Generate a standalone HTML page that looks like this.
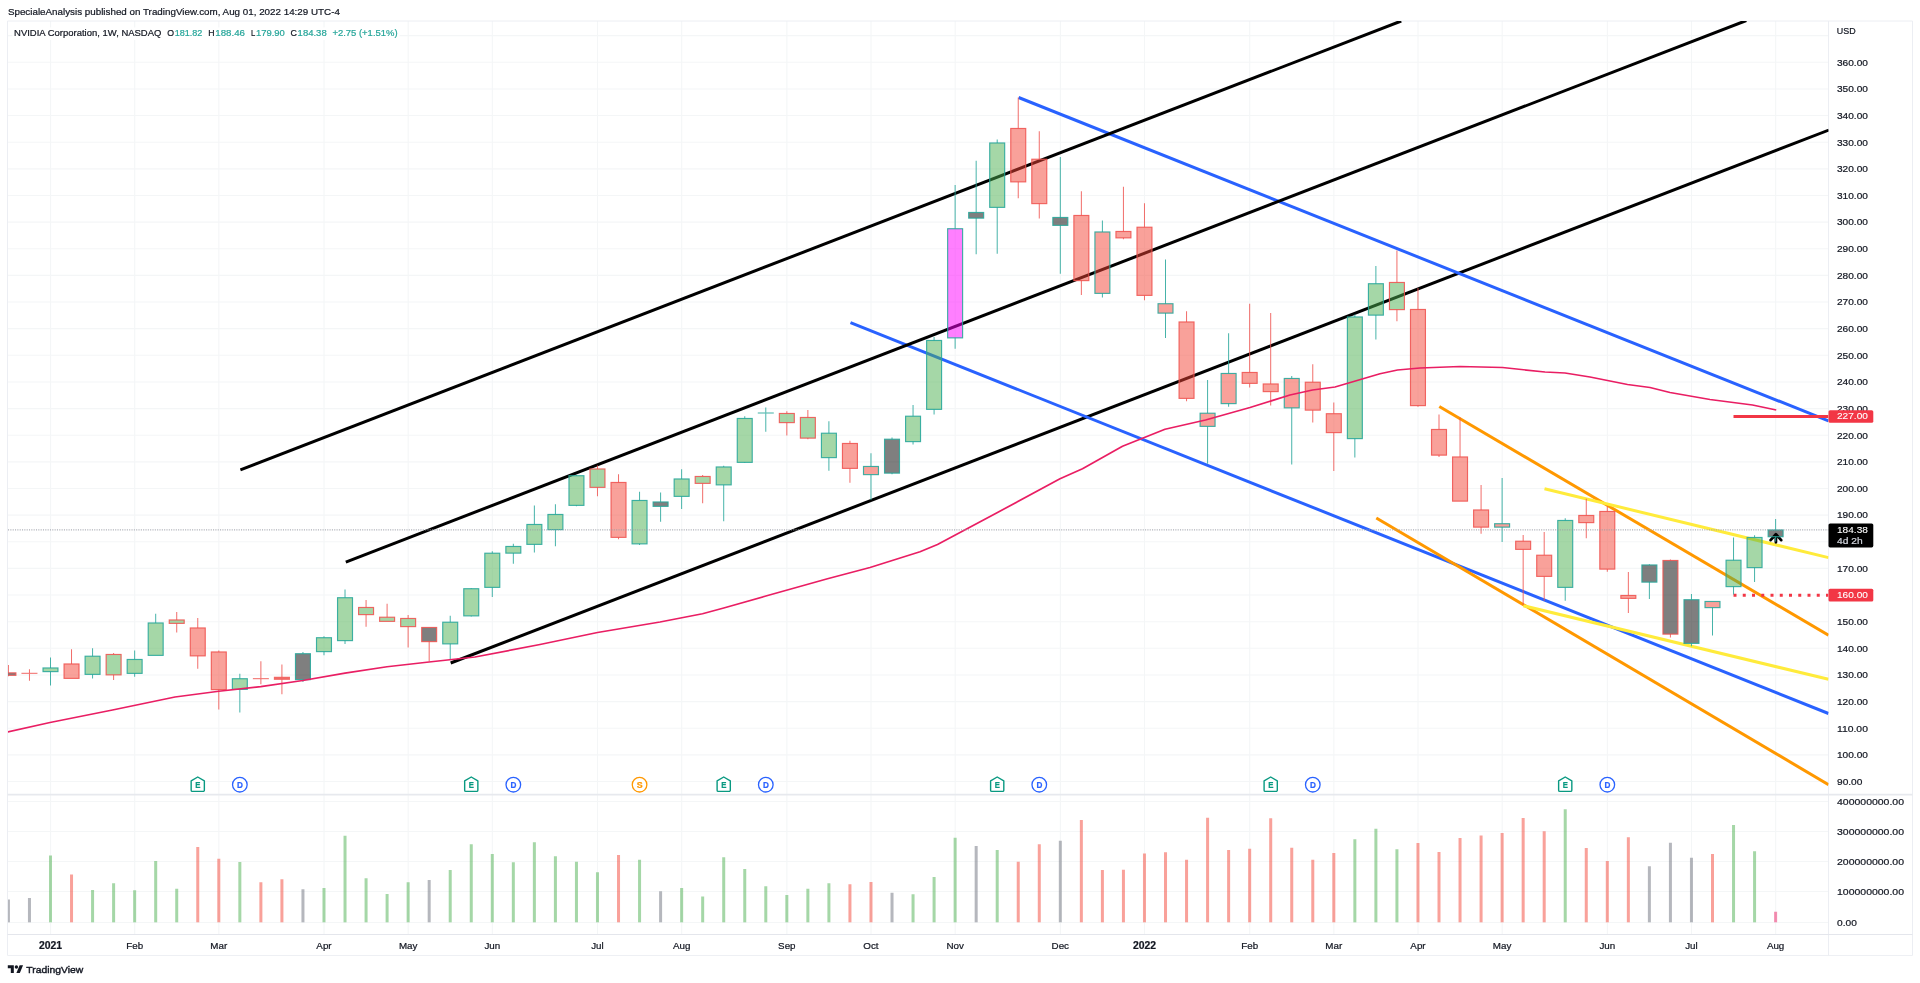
<!DOCTYPE html>
<html lang="en"><head><meta charset="utf-8"><title>NVIDIA Corporation, 1W, NASDAQ</title>
<style>html,body{margin:0;padding:0;background:#fff;}body{width:1920px;height:983px;overflow:hidden;}svg{display:block;position:absolute;left:0;top:0;will-change:transform;}text{font-family:"Liberation Sans", sans-serif;fill:#131722;stroke:#131722;stroke-width:.22px;}</style></head><body>
<svg width="1920" height="983" viewBox="0 0 1920 983">
<rect width="1920" height="983" fill="#fff"/>
<defs><clipPath id="cp"><rect x="8" y="21" width="1820.5" height="773.5"/></clipPath><clipPath id="cv"><rect x="8" y="795.5" width="1820.5" height="139"/></clipPath></defs>
<g stroke="#f4f6f7" stroke-width="1.1" fill="none">
<line x1="50.55" y1="21" x2="50.55" y2="934.5"/>
<line x1="134.7" y1="21" x2="134.7" y2="934.5"/>
<line x1="218.85" y1="21" x2="218.85" y2="934.5"/>
<line x1="324.04" y1="21" x2="324.04" y2="934.5"/>
<line x1="408.19" y1="21" x2="408.19" y2="934.5"/>
<line x1="492.34" y1="21" x2="492.34" y2="934.5"/>
<line x1="597.53" y1="21" x2="597.53" y2="934.5"/>
<line x1="681.69" y1="21" x2="681.69" y2="934.5"/>
<line x1="786.88" y1="21" x2="786.88" y2="934.5"/>
<line x1="871.03" y1="21" x2="871.03" y2="934.5"/>
<line x1="955.18" y1="21" x2="955.18" y2="934.5"/>
<line x1="1060.37" y1="21" x2="1060.37" y2="934.5"/>
<line x1="1144.52" y1="21" x2="1144.52" y2="934.5"/>
<line x1="1249.71" y1="21" x2="1249.71" y2="934.5"/>
<line x1="1333.86" y1="21" x2="1333.86" y2="934.5"/>
<line x1="1418.02" y1="21" x2="1418.02" y2="934.5"/>
<line x1="1502.17" y1="21" x2="1502.17" y2="934.5"/>
<line x1="1607.36" y1="21" x2="1607.36" y2="934.5"/>
<line x1="1691.51" y1="21" x2="1691.51" y2="934.5"/>
<line x1="1775.66" y1="21" x2="1775.66" y2="934.5"/>
<line x1="8" y1="781.5" x2="1828.5" y2="781.5"/>
<line x1="8" y1="754.86" x2="1828.5" y2="754.86"/>
<line x1="8" y1="728.22" x2="1828.5" y2="728.22"/>
<line x1="8" y1="701.59" x2="1828.5" y2="701.59"/>
<line x1="8" y1="674.95" x2="1828.5" y2="674.95"/>
<line x1="8" y1="648.31" x2="1828.5" y2="648.31"/>
<line x1="8" y1="621.68" x2="1828.5" y2="621.68"/>
<line x1="8" y1="595.04" x2="1828.5" y2="595.04"/>
<line x1="8" y1="568.4" x2="1828.5" y2="568.4"/>
<line x1="8" y1="541.77" x2="1828.5" y2="541.77"/>
<line x1="8" y1="515.13" x2="1828.5" y2="515.13"/>
<line x1="8" y1="488.49" x2="1828.5" y2="488.49"/>
<line x1="8" y1="461.86" x2="1828.5" y2="461.86"/>
<line x1="8" y1="435.22" x2="1828.5" y2="435.22"/>
<line x1="8" y1="408.58" x2="1828.5" y2="408.58"/>
<line x1="8" y1="381.94" x2="1828.5" y2="381.94"/>
<line x1="8" y1="355.31" x2="1828.5" y2="355.31"/>
<line x1="8" y1="328.67" x2="1828.5" y2="328.67"/>
<line x1="8" y1="302.03" x2="1828.5" y2="302.03"/>
<line x1="8" y1="275.4" x2="1828.5" y2="275.4"/>
<line x1="8" y1="248.76" x2="1828.5" y2="248.76"/>
<line x1="8" y1="222.12" x2="1828.5" y2="222.12"/>
<line x1="8" y1="195.49" x2="1828.5" y2="195.49"/>
<line x1="8" y1="168.85" x2="1828.5" y2="168.85"/>
<line x1="8" y1="142.21" x2="1828.5" y2="142.21"/>
<line x1="8" y1="115.57" x2="1828.5" y2="115.57"/>
<line x1="8" y1="88.94" x2="1828.5" y2="88.94"/>
<line x1="8" y1="62.3" x2="1828.5" y2="62.3"/>
<line x1="8" y1="35.66" x2="1828.5" y2="35.66"/>
<line x1="8" y1="922.5" x2="1828.5" y2="922.5"/>
<line x1="8" y1="891.5" x2="1828.5" y2="891.5"/>
<line x1="8" y1="861.5" x2="1828.5" y2="861.5"/>
<line x1="8" y1="831.5" x2="1828.5" y2="831.5"/>
<line x1="8" y1="801.5" x2="1828.5" y2="801.5"/>
</g>
<g stroke="#eceef3" stroke-width="1" fill="none">
<line x1="7.5" y1="21" x2="1912.5" y2="21"/>
<line x1="7.5" y1="21" x2="7.5" y2="955.5"/>
<line x1="7.5" y1="955.5" x2="1912.5" y2="955.5" stroke="#eef0f4"/>
<line x1="1828.5" y1="21" x2="1828.5" y2="955.5"/>
<line x1="1912.5" y1="21" x2="1912.5" y2="955.5" />
<line x1="7.5" y1="934.5" x2="1912.5" y2="934.5" stroke="#e4e6ec"/>
<line x1="7.5" y1="794.6" x2="1912.5" y2="794.6" stroke-width="1.6" stroke="#e7e9ee"/>
</g>
<g clip-path="url(#cp)" fill="none" stroke-width="3">
<line x1="450.7" y1="663" x2="1828.9" y2="130.05" stroke="#000"/>
<line x1="850.5" y1="322.6" x2="1828.5" y2="713.5" stroke="#2962ff"/>
<line x1="1018.6" y1="97.5" x2="1828.5" y2="420.9" stroke="#2962ff"/>
<line x1="240.4" y1="469.9" x2="1401.2" y2="21.0186" stroke="#000"/>
<line x1="345.8" y1="562.1" x2="1746.3" y2="20.5267" stroke="#000"/>
<line x1="1439.3" y1="406.5" x2="1828.5" y2="635.3" stroke="#ff9800"/>
<line x1="1376.3" y1="518" x2="1828.5" y2="784.6" stroke="#ff9800"/>
<line x1="1544.5" y1="488.8" x2="1828.5" y2="557.6" stroke="#ffeb3b"/>
<line x1="1523.3" y1="605.7" x2="1828.5" y2="679.3" stroke="#ffeb3b"/>
<line x1="1733.5" y1="416.5" x2="1828.5" y2="416.5" stroke="#f23645"/>
<line x1="1733.5" y1="595.2" x2="1828.5" y2="595.2" stroke="#f23645" stroke-dasharray="3 6.25"/>
<path d="M1770.6 540.1 L1775.9 534.3 L1781.2 540.1 M1775.9 534.8 L1775.9 542.3" stroke="#000" stroke-width="2.8" stroke-linecap="round" stroke-linejoin="round"/>
</g>
<g clip-path="url(#cp)">
<line x1="8.42" y1="665" x2="8.42" y2="672.9" stroke="rgba(239,83,80,.85)" stroke-width="1"/>
<line x1="8.42" y1="675.2" x2="8.42" y2="676.25" stroke="rgba(239,83,80,.85)" stroke-width="1"/>
<rect x="0.95" y="672.87" width="14.95" height="2.45" fill="rgba(0,0,0,.5)" stroke="rgba(239,83,80,.88)" stroke-width="1.15"/>
<line x1="29.46" y1="669.25" x2="29.46" y2="673" stroke="rgba(239,83,80,.85)" stroke-width="1"/>
<line x1="29.46" y1="673.6" x2="29.46" y2="680.75" stroke="rgba(239,83,80,.85)" stroke-width="1"/>
<line x1="21.46" y1="673.3" x2="37.46" y2="673.3" stroke="rgba(239,83,80,.88)" stroke-width="1"/>
<line x1="50.50" y1="657.5" x2="50.50" y2="668" stroke="rgba(38,166,154,.85)" stroke-width="1"/>
<line x1="50.50" y1="671.5" x2="50.50" y2="685.5" stroke="rgba(38,166,154,.85)" stroke-width="1"/>
<rect x="43.02" y="667.97" width="14.95" height="3.65" fill="rgba(76,175,80,.5)" stroke="rgba(38,166,154,.88)" stroke-width="1.15"/>
<line x1="71.53" y1="649.25" x2="71.53" y2="664" stroke="rgba(239,83,80,.85)" stroke-width="1"/>
<rect x="64.06" y="663.97" width="14.95" height="14.40" fill="rgba(244,67,54,.5)" stroke="rgba(239,83,80,.88)" stroke-width="1.15"/>
<line x1="92.57" y1="648.25" x2="92.57" y2="656.25" stroke="rgba(38,166,154,.85)" stroke-width="1"/>
<line x1="92.57" y1="674.25" x2="92.57" y2="678.5" stroke="rgba(38,166,154,.85)" stroke-width="1"/>
<rect x="85.10" y="656.22" width="14.95" height="18.15" fill="rgba(76,175,80,.5)" stroke="rgba(38,166,154,.88)" stroke-width="1.15"/>
<line x1="113.61" y1="653" x2="113.61" y2="654.5" stroke="rgba(239,83,80,.85)" stroke-width="1"/>
<line x1="113.61" y1="674.75" x2="113.61" y2="680" stroke="rgba(239,83,80,.85)" stroke-width="1"/>
<rect x="106.14" y="654.47" width="14.95" height="20.40" fill="rgba(76,175,80,.5)" stroke="rgba(239,83,80,.88)" stroke-width="1.15"/>
<line x1="134.65" y1="650.5" x2="134.65" y2="659.5" stroke="rgba(38,166,154,.85)" stroke-width="1"/>
<line x1="134.65" y1="673.25" x2="134.65" y2="676.75" stroke="rgba(38,166,154,.85)" stroke-width="1"/>
<rect x="127.17" y="659.47" width="14.95" height="13.90" fill="rgba(76,175,80,.5)" stroke="rgba(38,166,154,.88)" stroke-width="1.15"/>
<line x1="155.69" y1="613.75" x2="155.69" y2="623" stroke="rgba(38,166,154,.85)" stroke-width="1"/>
<rect x="148.21" y="622.97" width="14.95" height="32.40" fill="rgba(76,175,80,.5)" stroke="rgba(38,166,154,.88)" stroke-width="1.15"/>
<line x1="176.72" y1="612" x2="176.72" y2="620" stroke="rgba(239,83,80,.85)" stroke-width="1"/>
<line x1="176.72" y1="623.25" x2="176.72" y2="632.5" stroke="rgba(239,83,80,.85)" stroke-width="1"/>
<rect x="169.25" y="619.97" width="14.95" height="3.40" fill="rgba(76,175,80,.5)" stroke="rgba(239,83,80,.88)" stroke-width="1.15"/>
<line x1="197.76" y1="618" x2="197.76" y2="628" stroke="rgba(239,83,80,.85)" stroke-width="1"/>
<line x1="197.76" y1="655.75" x2="197.76" y2="668.75" stroke="rgba(239,83,80,.85)" stroke-width="1"/>
<rect x="190.29" y="627.97" width="14.95" height="27.90" fill="rgba(244,67,54,.5)" stroke="rgba(239,83,80,.88)" stroke-width="1.15"/>
<line x1="218.80" y1="650.5" x2="218.80" y2="652" stroke="rgba(239,83,80,.85)" stroke-width="1"/>
<line x1="218.80" y1="689.5" x2="218.80" y2="709.5" stroke="rgba(239,83,80,.85)" stroke-width="1"/>
<rect x="211.32" y="651.97" width="14.95" height="37.65" fill="rgba(244,67,54,.5)" stroke="rgba(239,83,80,.88)" stroke-width="1.15"/>
<line x1="239.84" y1="673.75" x2="239.84" y2="678.75" stroke="rgba(38,166,154,.85)" stroke-width="1"/>
<line x1="239.84" y1="689.25" x2="239.84" y2="712.5" stroke="rgba(38,166,154,.85)" stroke-width="1"/>
<rect x="232.36" y="678.72" width="14.95" height="10.65" fill="rgba(76,175,80,.5)" stroke="rgba(38,166,154,.88)" stroke-width="1.15"/>
<line x1="260.88" y1="661.25" x2="260.88" y2="678.4" stroke="rgba(239,83,80,.85)" stroke-width="1"/>
<line x1="260.88" y1="679" x2="260.88" y2="684.25" stroke="rgba(239,83,80,.85)" stroke-width="1"/>
<line x1="252.88" y1="678.7" x2="268.88" y2="678.7" stroke="rgba(239,83,80,.88)" stroke-width="1"/>
<line x1="281.91" y1="664.5" x2="281.91" y2="677.25" stroke="rgba(239,83,80,.85)" stroke-width="1"/>
<line x1="281.91" y1="679.25" x2="281.91" y2="694.25" stroke="rgba(239,83,80,.85)" stroke-width="1"/>
<rect x="273.86" y="676.75" width="16.1" height="3.10" fill="rgba(239,83,80,.88)"/>
<line x1="302.95" y1="652" x2="302.95" y2="653.75" stroke="rgba(38,166,154,.85)" stroke-width="1"/>
<line x1="302.95" y1="679.5" x2="302.95" y2="682" stroke="rgba(38,166,154,.85)" stroke-width="1"/>
<rect x="295.48" y="653.72" width="14.95" height="25.90" fill="rgba(0,0,0,.5)" stroke="rgba(38,166,154,.88)" stroke-width="1.15"/>
<line x1="323.99" y1="636.25" x2="323.99" y2="637.75" stroke="rgba(38,166,154,.85)" stroke-width="1"/>
<line x1="323.99" y1="651.5" x2="323.99" y2="655.25" stroke="rgba(38,166,154,.85)" stroke-width="1"/>
<rect x="316.51" y="637.72" width="14.95" height="13.90" fill="rgba(76,175,80,.5)" stroke="rgba(38,166,154,.88)" stroke-width="1.15"/>
<line x1="345.03" y1="589.5" x2="345.03" y2="597.75" stroke="rgba(38,166,154,.85)" stroke-width="1"/>
<line x1="345.03" y1="640.5" x2="345.03" y2="644" stroke="rgba(38,166,154,.85)" stroke-width="1"/>
<rect x="337.55" y="597.72" width="14.95" height="42.90" fill="rgba(76,175,80,.5)" stroke="rgba(38,166,154,.88)" stroke-width="1.15"/>
<line x1="366.07" y1="600" x2="366.07" y2="607.5" stroke="rgba(239,83,80,.85)" stroke-width="1"/>
<line x1="366.07" y1="614.5" x2="366.07" y2="626.75" stroke="rgba(239,83,80,.85)" stroke-width="1"/>
<rect x="358.59" y="607.47" width="14.95" height="7.15" fill="rgba(76,175,80,.5)" stroke="rgba(239,83,80,.88)" stroke-width="1.15"/>
<line x1="387.10" y1="603.75" x2="387.10" y2="617.25" stroke="rgba(239,83,80,.85)" stroke-width="1"/>
<rect x="379.63" y="617.22" width="14.95" height="4.15" fill="rgba(76,175,80,.5)" stroke="rgba(239,83,80,.88)" stroke-width="1.15"/>
<line x1="408.14" y1="615" x2="408.14" y2="618.5" stroke="rgba(239,83,80,.85)" stroke-width="1"/>
<line x1="408.14" y1="626.5" x2="408.14" y2="647.5" stroke="rgba(239,83,80,.85)" stroke-width="1"/>
<rect x="400.67" y="618.47" width="14.95" height="8.15" fill="rgba(76,175,80,.5)" stroke="rgba(239,83,80,.88)" stroke-width="1.15"/>
<line x1="429.18" y1="641.5" x2="429.18" y2="661.25" stroke="rgba(239,83,80,.85)" stroke-width="1"/>
<rect x="421.70" y="627.47" width="14.95" height="14.15" fill="rgba(0,0,0,.5)" stroke="rgba(239,83,80,.88)" stroke-width="1.15"/>
<line x1="450.22" y1="615.75" x2="450.22" y2="622.25" stroke="rgba(38,166,154,.85)" stroke-width="1"/>
<line x1="450.22" y1="643.75" x2="450.22" y2="660" stroke="rgba(38,166,154,.85)" stroke-width="1"/>
<rect x="442.74" y="622.22" width="14.95" height="21.65" fill="rgba(76,175,80,.5)" stroke="rgba(38,166,154,.88)" stroke-width="1.15"/>
<line x1="471.26" y1="588" x2="471.26" y2="588.75" stroke="rgba(38,166,154,.85)" stroke-width="1"/>
<line x1="471.26" y1="615.75" x2="471.26" y2="616.5" stroke="rgba(38,166,154,.85)" stroke-width="1"/>
<rect x="463.78" y="588.72" width="14.95" height="27.15" fill="rgba(76,175,80,.5)" stroke="rgba(38,166,154,.88)" stroke-width="1.15"/>
<line x1="492.29" y1="551.25" x2="492.29" y2="553.25" stroke="rgba(38,166,154,.85)" stroke-width="1"/>
<line x1="492.29" y1="587.25" x2="492.29" y2="597" stroke="rgba(38,166,154,.85)" stroke-width="1"/>
<rect x="484.82" y="553.22" width="14.95" height="34.15" fill="rgba(76,175,80,.5)" stroke="rgba(38,166,154,.88)" stroke-width="1.15"/>
<line x1="513.33" y1="543.75" x2="513.33" y2="546.5" stroke="rgba(38,166,154,.85)" stroke-width="1"/>
<line x1="513.33" y1="553" x2="513.33" y2="563.75" stroke="rgba(38,166,154,.85)" stroke-width="1"/>
<rect x="505.86" y="546.47" width="14.95" height="6.65" fill="rgba(76,175,80,.5)" stroke="rgba(38,166,154,.88)" stroke-width="1.15"/>
<line x1="534.37" y1="505.5" x2="534.37" y2="524.5" stroke="rgba(38,166,154,.85)" stroke-width="1"/>
<line x1="534.37" y1="544.25" x2="534.37" y2="552.5" stroke="rgba(38,166,154,.85)" stroke-width="1"/>
<rect x="526.89" y="524.47" width="14.95" height="19.90" fill="rgba(76,175,80,.5)" stroke="rgba(38,166,154,.88)" stroke-width="1.15"/>
<line x1="555.41" y1="504.25" x2="555.41" y2="514.5" stroke="rgba(38,166,154,.85)" stroke-width="1"/>
<line x1="555.41" y1="529.5" x2="555.41" y2="546.25" stroke="rgba(38,166,154,.85)" stroke-width="1"/>
<rect x="547.93" y="514.47" width="14.95" height="15.15" fill="rgba(76,175,80,.5)" stroke="rgba(38,166,154,.88)" stroke-width="1.15"/>
<line x1="576.45" y1="475" x2="576.45" y2="475.75" stroke="rgba(38,166,154,.85)" stroke-width="1"/>
<line x1="576.45" y1="505.25" x2="576.45" y2="506.25" stroke="rgba(38,166,154,.85)" stroke-width="1"/>
<rect x="568.97" y="475.72" width="14.95" height="29.65" fill="rgba(76,175,80,.5)" stroke="rgba(38,166,154,.88)" stroke-width="1.15"/>
<line x1="597.48" y1="465.5" x2="597.48" y2="469" stroke="rgba(239,83,80,.85)" stroke-width="1"/>
<line x1="597.48" y1="487.25" x2="597.48" y2="496.25" stroke="rgba(239,83,80,.85)" stroke-width="1"/>
<rect x="590.01" y="468.97" width="14.95" height="18.40" fill="rgba(76,175,80,.5)" stroke="rgba(239,83,80,.88)" stroke-width="1.15"/>
<line x1="618.52" y1="474.25" x2="618.52" y2="482.5" stroke="rgba(239,83,80,.85)" stroke-width="1"/>
<line x1="618.52" y1="537.25" x2="618.52" y2="539.25" stroke="rgba(239,83,80,.85)" stroke-width="1"/>
<rect x="611.05" y="482.47" width="14.95" height="54.90" fill="rgba(244,67,54,.5)" stroke="rgba(239,83,80,.88)" stroke-width="1.15"/>
<line x1="639.56" y1="491.75" x2="639.56" y2="500.5" stroke="rgba(38,166,154,.85)" stroke-width="1"/>
<line x1="639.56" y1="543.75" x2="639.56" y2="545" stroke="rgba(38,166,154,.85)" stroke-width="1"/>
<rect x="632.08" y="500.47" width="14.95" height="43.40" fill="rgba(76,175,80,.5)" stroke="rgba(38,166,154,.88)" stroke-width="1.15"/>
<line x1="660.60" y1="492.5" x2="660.60" y2="502" stroke="rgba(38,166,154,.85)" stroke-width="1"/>
<line x1="660.60" y1="506.25" x2="660.60" y2="521.75" stroke="rgba(38,166,154,.85)" stroke-width="1"/>
<rect x="653.12" y="501.97" width="14.95" height="4.40" fill="rgba(0,0,0,.5)" stroke="rgba(38,166,154,.88)" stroke-width="1.15"/>
<line x1="681.64" y1="469.25" x2="681.64" y2="479" stroke="rgba(38,166,154,.85)" stroke-width="1"/>
<line x1="681.64" y1="496.25" x2="681.64" y2="509" stroke="rgba(38,166,154,.85)" stroke-width="1"/>
<rect x="674.16" y="478.97" width="14.95" height="17.40" fill="rgba(76,175,80,.5)" stroke="rgba(38,166,154,.88)" stroke-width="1.15"/>
<line x1="702.67" y1="475" x2="702.67" y2="476.5" stroke="rgba(239,83,80,.85)" stroke-width="1"/>
<line x1="702.67" y1="483.25" x2="702.67" y2="503.25" stroke="rgba(239,83,80,.85)" stroke-width="1"/>
<rect x="695.20" y="476.47" width="14.95" height="6.90" fill="rgba(76,175,80,.5)" stroke="rgba(239,83,80,.88)" stroke-width="1.15"/>
<line x1="723.71" y1="465.75" x2="723.71" y2="467" stroke="rgba(38,166,154,.85)" stroke-width="1"/>
<line x1="723.71" y1="484.75" x2="723.71" y2="521.25" stroke="rgba(38,166,154,.85)" stroke-width="1"/>
<rect x="716.24" y="466.97" width="14.95" height="17.90" fill="rgba(76,175,80,.5)" stroke="rgba(38,166,154,.88)" stroke-width="1.15"/>
<line x1="744.75" y1="416.25" x2="744.75" y2="418.5" stroke="rgba(38,166,154,.85)" stroke-width="1"/>
<line x1="744.75" y1="462.25" x2="744.75" y2="463" stroke="rgba(38,166,154,.85)" stroke-width="1"/>
<rect x="737.27" y="418.47" width="14.95" height="43.90" fill="rgba(76,175,80,.5)" stroke="rgba(38,166,154,.88)" stroke-width="1.15"/>
<line x1="765.79" y1="407.5" x2="765.79" y2="412.7" stroke="rgba(38,166,154,.85)" stroke-width="1"/>
<line x1="765.79" y1="413.3" x2="765.79" y2="431.75" stroke="rgba(38,166,154,.85)" stroke-width="1"/>
<line x1="757.79" y1="413" x2="773.79" y2="413" stroke="rgba(38,166,154,.88)" stroke-width="1"/>
<line x1="786.83" y1="411.25" x2="786.83" y2="413.5" stroke="rgba(239,83,80,.85)" stroke-width="1"/>
<line x1="786.83" y1="422.5" x2="786.83" y2="435.5" stroke="rgba(239,83,80,.85)" stroke-width="1"/>
<rect x="779.35" y="413.47" width="14.95" height="9.15" fill="rgba(76,175,80,.5)" stroke="rgba(239,83,80,.88)" stroke-width="1.15"/>
<line x1="807.86" y1="410" x2="807.86" y2="417.5" stroke="rgba(239,83,80,.85)" stroke-width="1"/>
<line x1="807.86" y1="438" x2="807.86" y2="439.25" stroke="rgba(239,83,80,.85)" stroke-width="1"/>
<rect x="800.39" y="417.47" width="14.95" height="20.65" fill="rgba(76,175,80,.5)" stroke="rgba(239,83,80,.88)" stroke-width="1.15"/>
<line x1="828.90" y1="421.25" x2="828.90" y2="433.25" stroke="rgba(38,166,154,.85)" stroke-width="1"/>
<line x1="828.90" y1="457.5" x2="828.90" y2="470.75" stroke="rgba(38,166,154,.85)" stroke-width="1"/>
<rect x="821.43" y="433.22" width="14.95" height="24.40" fill="rgba(76,175,80,.5)" stroke="rgba(38,166,154,.88)" stroke-width="1.15"/>
<line x1="849.94" y1="440.75" x2="849.94" y2="443.5" stroke="rgba(239,83,80,.85)" stroke-width="1"/>
<line x1="849.94" y1="468.25" x2="849.94" y2="482.75" stroke="rgba(239,83,80,.85)" stroke-width="1"/>
<rect x="842.46" y="443.47" width="14.95" height="24.90" fill="rgba(244,67,54,.5)" stroke="rgba(239,83,80,.88)" stroke-width="1.15"/>
<line x1="870.98" y1="453.25" x2="870.98" y2="466.5" stroke="rgba(38,166,154,.85)" stroke-width="1"/>
<line x1="870.98" y1="474.5" x2="870.98" y2="500" stroke="rgba(38,166,154,.85)" stroke-width="1"/>
<rect x="863.50" y="466.47" width="14.95" height="8.15" fill="rgba(244,67,54,.5)" stroke="rgba(38,166,154,.88)" stroke-width="1.15"/>
<line x1="892.02" y1="437.5" x2="892.02" y2="439.25" stroke="rgba(38,166,154,.85)" stroke-width="1"/>
<line x1="892.02" y1="473" x2="892.02" y2="474.25" stroke="rgba(38,166,154,.85)" stroke-width="1"/>
<rect x="884.54" y="439.22" width="14.95" height="33.90" fill="rgba(0,0,0,.5)" stroke="rgba(38,166,154,.88)" stroke-width="1.15"/>
<line x1="913.05" y1="405" x2="913.05" y2="416.25" stroke="rgba(38,166,154,.85)" stroke-width="1"/>
<line x1="913.05" y1="441.5" x2="913.05" y2="444.5" stroke="rgba(38,166,154,.85)" stroke-width="1"/>
<rect x="905.58" y="416.22" width="14.95" height="25.40" fill="rgba(76,175,80,.5)" stroke="rgba(38,166,154,.88)" stroke-width="1.15"/>
<line x1="934.09" y1="337" x2="934.09" y2="340.5" stroke="rgba(38,166,154,.85)" stroke-width="1"/>
<line x1="934.09" y1="409.25" x2="934.09" y2="414.5" stroke="rgba(38,166,154,.85)" stroke-width="1"/>
<rect x="926.62" y="340.47" width="14.95" height="68.90" fill="rgba(76,175,80,.5)" stroke="rgba(38,166,154,.88)" stroke-width="1.15"/>
<line x1="955.13" y1="185" x2="955.13" y2="228.75" stroke="rgba(38,166,154,.85)" stroke-width="1"/>
<line x1="955.13" y1="337.75" x2="955.13" y2="348.75" stroke="rgba(38,166,154,.85)" stroke-width="1"/>
<rect x="947.65" y="228.72" width="14.95" height="109.15" fill="rgba(255,0,255,.5)" stroke="rgba(38,166,154,.88)" stroke-width="1.15"/>
<line x1="976.17" y1="160.75" x2="976.17" y2="212.5" stroke="rgba(38,166,154,.85)" stroke-width="1"/>
<line x1="976.17" y1="218" x2="976.17" y2="254.25" stroke="rgba(38,166,154,.85)" stroke-width="1"/>
<rect x="968.69" y="212.47" width="14.95" height="5.65" fill="rgba(0,0,0,.5)" stroke="rgba(38,166,154,.88)" stroke-width="1.15"/>
<line x1="997.21" y1="139.5" x2="997.21" y2="143" stroke="rgba(38,166,154,.85)" stroke-width="1"/>
<line x1="997.21" y1="207.25" x2="997.21" y2="253.75" stroke="rgba(38,166,154,.85)" stroke-width="1"/>
<rect x="989.73" y="142.97" width="14.95" height="64.40" fill="rgba(76,175,80,.5)" stroke="rgba(38,166,154,.88)" stroke-width="1.15"/>
<line x1="1018.24" y1="97.5" x2="1018.24" y2="128.5" stroke="rgba(239,83,80,.85)" stroke-width="1"/>
<line x1="1018.24" y1="181.75" x2="1018.24" y2="198.25" stroke="rgba(239,83,80,.85)" stroke-width="1"/>
<rect x="1010.77" y="128.47" width="14.95" height="53.40" fill="rgba(244,67,54,.5)" stroke="rgba(239,83,80,.88)" stroke-width="1.15"/>
<line x1="1039.28" y1="131.25" x2="1039.28" y2="159.25" stroke="rgba(239,83,80,.85)" stroke-width="1"/>
<line x1="1039.28" y1="203.5" x2="1039.28" y2="218.5" stroke="rgba(239,83,80,.85)" stroke-width="1"/>
<rect x="1031.81" y="159.22" width="14.95" height="44.40" fill="rgba(244,67,54,.5)" stroke="rgba(239,83,80,.88)" stroke-width="1.15"/>
<line x1="1060.32" y1="157" x2="1060.32" y2="217.5" stroke="rgba(38,166,154,.85)" stroke-width="1"/>
<line x1="1060.32" y1="225.25" x2="1060.32" y2="273.75" stroke="rgba(38,166,154,.85)" stroke-width="1"/>
<rect x="1052.85" y="217.47" width="14.95" height="7.90" fill="rgba(0,0,0,.5)" stroke="rgba(38,166,154,.88)" stroke-width="1.15"/>
<line x1="1081.36" y1="191.25" x2="1081.36" y2="215.5" stroke="rgba(239,83,80,.85)" stroke-width="1"/>
<line x1="1081.36" y1="280.5" x2="1081.36" y2="295" stroke="rgba(239,83,80,.85)" stroke-width="1"/>
<rect x="1073.88" y="215.47" width="14.95" height="65.15" fill="rgba(244,67,54,.5)" stroke="rgba(239,83,80,.88)" stroke-width="1.15"/>
<line x1="1102.40" y1="220.5" x2="1102.40" y2="232" stroke="rgba(38,166,154,.85)" stroke-width="1"/>
<line x1="1102.40" y1="293.25" x2="1102.40" y2="297.5" stroke="rgba(38,166,154,.85)" stroke-width="1"/>
<rect x="1094.92" y="231.97" width="14.95" height="61.40" fill="rgba(244,67,54,.5)" stroke="rgba(38,166,154,.88)" stroke-width="1.15"/>
<line x1="1123.43" y1="186.75" x2="1123.43" y2="231.5" stroke="rgba(239,83,80,.85)" stroke-width="1"/>
<line x1="1123.43" y1="237.75" x2="1123.43" y2="239.25" stroke="rgba(239,83,80,.85)" stroke-width="1"/>
<rect x="1115.96" y="231.47" width="14.95" height="6.40" fill="rgba(244,67,54,.5)" stroke="rgba(239,83,80,.88)" stroke-width="1.15"/>
<line x1="1144.47" y1="203.25" x2="1144.47" y2="227.25" stroke="rgba(239,83,80,.85)" stroke-width="1"/>
<line x1="1144.47" y1="295.25" x2="1144.47" y2="300.25" stroke="rgba(239,83,80,.85)" stroke-width="1"/>
<rect x="1137.00" y="227.22" width="14.95" height="68.15" fill="rgba(244,67,54,.5)" stroke="rgba(239,83,80,.88)" stroke-width="1.15"/>
<line x1="1165.51" y1="259.5" x2="1165.51" y2="303.75" stroke="rgba(38,166,154,.85)" stroke-width="1"/>
<line x1="1165.51" y1="313" x2="1165.51" y2="338" stroke="rgba(38,166,154,.85)" stroke-width="1"/>
<rect x="1158.04" y="303.72" width="14.95" height="9.40" fill="rgba(244,67,54,.5)" stroke="rgba(38,166,154,.88)" stroke-width="1.15"/>
<line x1="1186.55" y1="311.25" x2="1186.55" y2="322" stroke="rgba(239,83,80,.85)" stroke-width="1"/>
<line x1="1186.55" y1="398.25" x2="1186.55" y2="401.25" stroke="rgba(239,83,80,.85)" stroke-width="1"/>
<rect x="1179.07" y="321.97" width="14.95" height="76.40" fill="rgba(244,67,54,.5)" stroke="rgba(239,83,80,.88)" stroke-width="1.15"/>
<line x1="1207.59" y1="380" x2="1207.59" y2="413.25" stroke="rgba(38,166,154,.85)" stroke-width="1"/>
<line x1="1207.59" y1="426.25" x2="1207.59" y2="463.75" stroke="rgba(38,166,154,.85)" stroke-width="1"/>
<rect x="1200.11" y="413.22" width="14.95" height="13.15" fill="rgba(244,67,54,.5)" stroke="rgba(38,166,154,.88)" stroke-width="1.15"/>
<line x1="1228.62" y1="333.25" x2="1228.62" y2="373.5" stroke="rgba(38,166,154,.85)" stroke-width="1"/>
<line x1="1228.62" y1="403.5" x2="1228.62" y2="406.75" stroke="rgba(38,166,154,.85)" stroke-width="1"/>
<rect x="1221.15" y="373.47" width="14.95" height="30.15" fill="rgba(244,67,54,.5)" stroke="rgba(38,166,154,.88)" stroke-width="1.15"/>
<line x1="1249.66" y1="303.75" x2="1249.66" y2="372.5" stroke="rgba(239,83,80,.85)" stroke-width="1"/>
<line x1="1249.66" y1="383.25" x2="1249.66" y2="387.5" stroke="rgba(239,83,80,.85)" stroke-width="1"/>
<rect x="1242.19" y="372.47" width="14.95" height="10.90" fill="rgba(244,67,54,.5)" stroke="rgba(239,83,80,.88)" stroke-width="1.15"/>
<line x1="1270.70" y1="313" x2="1270.70" y2="384" stroke="rgba(239,83,80,.85)" stroke-width="1"/>
<line x1="1270.70" y1="391.5" x2="1270.70" y2="405.5" stroke="rgba(239,83,80,.85)" stroke-width="1"/>
<rect x="1263.23" y="383.97" width="14.95" height="7.65" fill="rgba(244,67,54,.5)" stroke="rgba(239,83,80,.88)" stroke-width="1.15"/>
<line x1="1291.74" y1="376" x2="1291.74" y2="378.5" stroke="rgba(38,166,154,.85)" stroke-width="1"/>
<line x1="1291.74" y1="407.75" x2="1291.74" y2="464.5" stroke="rgba(38,166,154,.85)" stroke-width="1"/>
<rect x="1284.26" y="378.47" width="14.95" height="29.40" fill="rgba(244,67,54,.5)" stroke="rgba(38,166,154,.88)" stroke-width="1.15"/>
<line x1="1312.78" y1="364.25" x2="1312.78" y2="382.25" stroke="rgba(239,83,80,.85)" stroke-width="1"/>
<line x1="1312.78" y1="410" x2="1312.78" y2="422.5" stroke="rgba(239,83,80,.85)" stroke-width="1"/>
<rect x="1305.30" y="382.22" width="14.95" height="27.90" fill="rgba(244,67,54,.5)" stroke="rgba(239,83,80,.88)" stroke-width="1.15"/>
<line x1="1333.81" y1="402.5" x2="1333.81" y2="413.75" stroke="rgba(239,83,80,.85)" stroke-width="1"/>
<line x1="1333.81" y1="432.5" x2="1333.81" y2="471" stroke="rgba(239,83,80,.85)" stroke-width="1"/>
<rect x="1326.34" y="413.72" width="14.95" height="18.90" fill="rgba(244,67,54,.5)" stroke="rgba(239,83,80,.88)" stroke-width="1.15"/>
<line x1="1354.85" y1="314.5" x2="1354.85" y2="317" stroke="rgba(38,166,154,.85)" stroke-width="1"/>
<line x1="1354.85" y1="438.5" x2="1354.85" y2="457.5" stroke="rgba(38,166,154,.85)" stroke-width="1"/>
<rect x="1347.38" y="316.97" width="14.95" height="121.65" fill="rgba(76,175,80,.5)" stroke="rgba(38,166,154,.88)" stroke-width="1.15"/>
<line x1="1375.89" y1="266" x2="1375.89" y2="283.75" stroke="rgba(38,166,154,.85)" stroke-width="1"/>
<line x1="1375.89" y1="315" x2="1375.89" y2="339.5" stroke="rgba(38,166,154,.85)" stroke-width="1"/>
<rect x="1368.42" y="283.72" width="14.95" height="31.40" fill="rgba(76,175,80,.5)" stroke="rgba(38,166,154,.88)" stroke-width="1.15"/>
<line x1="1396.93" y1="250.5" x2="1396.93" y2="282.5" stroke="rgba(239,83,80,.85)" stroke-width="1"/>
<line x1="1396.93" y1="309.5" x2="1396.93" y2="321.25" stroke="rgba(239,83,80,.85)" stroke-width="1"/>
<rect x="1389.45" y="282.47" width="14.95" height="27.15" fill="rgba(76,175,80,.5)" stroke="rgba(239,83,80,.88)" stroke-width="1.15"/>
<line x1="1417.97" y1="288" x2="1417.97" y2="309.5" stroke="rgba(239,83,80,.85)" stroke-width="1"/>
<line x1="1417.97" y1="405.5" x2="1417.97" y2="406.75" stroke="rgba(239,83,80,.85)" stroke-width="1"/>
<rect x="1410.49" y="309.47" width="14.95" height="96.15" fill="rgba(244,67,54,.5)" stroke="rgba(239,83,80,.88)" stroke-width="1.15"/>
<line x1="1439.00" y1="414.5" x2="1439.00" y2="429.5" stroke="rgba(239,83,80,.85)" stroke-width="1"/>
<line x1="1439.00" y1="455" x2="1439.00" y2="457" stroke="rgba(239,83,80,.85)" stroke-width="1"/>
<rect x="1431.53" y="429.47" width="14.95" height="25.65" fill="rgba(244,67,54,.5)" stroke="rgba(239,83,80,.88)" stroke-width="1.15"/>
<line x1="1460.04" y1="417.5" x2="1460.04" y2="457" stroke="rgba(239,83,80,.85)" stroke-width="1"/>
<rect x="1452.57" y="456.97" width="14.95" height="44.15" fill="rgba(244,67,54,.5)" stroke="rgba(239,83,80,.88)" stroke-width="1.15"/>
<line x1="1481.08" y1="485" x2="1481.08" y2="510" stroke="rgba(239,83,80,.85)" stroke-width="1"/>
<line x1="1481.08" y1="527" x2="1481.08" y2="533.75" stroke="rgba(239,83,80,.85)" stroke-width="1"/>
<rect x="1473.61" y="509.97" width="14.95" height="17.15" fill="rgba(244,67,54,.5)" stroke="rgba(239,83,80,.88)" stroke-width="1.15"/>
<line x1="1502.12" y1="478" x2="1502.12" y2="523.75" stroke="rgba(38,166,154,.85)" stroke-width="1"/>
<line x1="1502.12" y1="527" x2="1502.12" y2="542" stroke="rgba(38,166,154,.85)" stroke-width="1"/>
<rect x="1494.64" y="523.72" width="14.95" height="3.40" fill="rgba(244,67,54,.5)" stroke="rgba(38,166,154,.88)" stroke-width="1.15"/>
<line x1="1523.16" y1="535" x2="1523.16" y2="541.25" stroke="rgba(239,83,80,.85)" stroke-width="1"/>
<line x1="1523.16" y1="549.25" x2="1523.16" y2="605" stroke="rgba(239,83,80,.85)" stroke-width="1"/>
<rect x="1515.68" y="541.22" width="14.95" height="8.15" fill="rgba(244,67,54,.5)" stroke="rgba(239,83,80,.88)" stroke-width="1.15"/>
<line x1="1544.19" y1="532" x2="1544.19" y2="555.25" stroke="rgba(239,83,80,.85)" stroke-width="1"/>
<line x1="1544.19" y1="576.25" x2="1544.19" y2="600.75" stroke="rgba(239,83,80,.85)" stroke-width="1"/>
<rect x="1536.72" y="555.22" width="14.95" height="21.15" fill="rgba(244,67,54,.5)" stroke="rgba(239,83,80,.88)" stroke-width="1.15"/>
<line x1="1565.23" y1="518.25" x2="1565.23" y2="520.5" stroke="rgba(38,166,154,.85)" stroke-width="1"/>
<line x1="1565.23" y1="587.25" x2="1565.23" y2="600.75" stroke="rgba(38,166,154,.85)" stroke-width="1"/>
<rect x="1557.76" y="520.47" width="14.95" height="66.90" fill="rgba(76,175,80,.5)" stroke="rgba(38,166,154,.88)" stroke-width="1.15"/>
<line x1="1586.27" y1="498.75" x2="1586.27" y2="515.5" stroke="rgba(239,83,80,.85)" stroke-width="1"/>
<line x1="1586.27" y1="522.5" x2="1586.27" y2="538.25" stroke="rgba(239,83,80,.85)" stroke-width="1"/>
<rect x="1578.80" y="515.47" width="14.95" height="7.15" fill="rgba(244,67,54,.5)" stroke="rgba(239,83,80,.88)" stroke-width="1.15"/>
<line x1="1607.31" y1="506.25" x2="1607.31" y2="511.5" stroke="rgba(239,83,80,.85)" stroke-width="1"/>
<line x1="1607.31" y1="569" x2="1607.31" y2="571.75" stroke="rgba(239,83,80,.85)" stroke-width="1"/>
<rect x="1599.83" y="511.47" width="14.95" height="57.65" fill="rgba(244,67,54,.5)" stroke="rgba(239,83,80,.88)" stroke-width="1.15"/>
<line x1="1628.35" y1="572" x2="1628.35" y2="595.5" stroke="rgba(239,83,80,.85)" stroke-width="1"/>
<line x1="1628.35" y1="598.25" x2="1628.35" y2="613" stroke="rgba(239,83,80,.85)" stroke-width="1"/>
<rect x="1620.87" y="595.47" width="14.95" height="2.90" fill="rgba(244,67,54,.5)" stroke="rgba(239,83,80,.88)" stroke-width="1.15"/>
<line x1="1649.38" y1="564.25" x2="1649.38" y2="565" stroke="rgba(38,166,154,.85)" stroke-width="1"/>
<line x1="1649.38" y1="582" x2="1649.38" y2="599" stroke="rgba(38,166,154,.85)" stroke-width="1"/>
<rect x="1641.91" y="564.97" width="14.95" height="17.15" fill="rgba(0,0,0,.5)" stroke="rgba(38,166,154,.88)" stroke-width="1.15"/>
<line x1="1670.42" y1="559.5" x2="1670.42" y2="560.5" stroke="rgba(239,83,80,.85)" stroke-width="1"/>
<line x1="1670.42" y1="634" x2="1670.42" y2="637.5" stroke="rgba(239,83,80,.85)" stroke-width="1"/>
<rect x="1662.95" y="560.47" width="14.95" height="73.65" fill="rgba(0,0,0,.5)" stroke="rgba(239,83,80,.88)" stroke-width="1.15"/>
<line x1="1691.46" y1="594" x2="1691.46" y2="599.75" stroke="rgba(38,166,154,.85)" stroke-width="1"/>
<line x1="1691.46" y1="643.25" x2="1691.46" y2="646.25" stroke="rgba(38,166,154,.85)" stroke-width="1"/>
<rect x="1683.99" y="599.72" width="14.95" height="43.65" fill="rgba(0,0,0,.5)" stroke="rgba(38,166,154,.88)" stroke-width="1.15"/>
<line x1="1712.50" y1="607.5" x2="1712.50" y2="635.5" stroke="rgba(38,166,154,.85)" stroke-width="1"/>
<rect x="1705.02" y="601.47" width="14.95" height="6.15" fill="rgba(244,67,54,.5)" stroke="rgba(38,166,154,.88)" stroke-width="1.15"/>
<line x1="1733.54" y1="537.5" x2="1733.54" y2="560.25" stroke="rgba(38,166,154,.85)" stroke-width="1"/>
<line x1="1733.54" y1="586.5" x2="1733.54" y2="594.5" stroke="rgba(38,166,154,.85)" stroke-width="1"/>
<rect x="1726.06" y="560.22" width="14.95" height="26.40" fill="rgba(76,175,80,.5)" stroke="rgba(38,166,154,.88)" stroke-width="1.15"/>
<line x1="1754.57" y1="535.25" x2="1754.57" y2="537.5" stroke="rgba(38,166,154,.85)" stroke-width="1"/>
<line x1="1754.57" y1="567.5" x2="1754.57" y2="582" stroke="rgba(38,166,154,.85)" stroke-width="1"/>
<rect x="1747.10" y="537.47" width="14.95" height="30.15" fill="rgba(76,175,80,.5)" stroke="rgba(38,166,154,.88)" stroke-width="1.15"/>
<line x1="1775.61" y1="519" x2="1775.61" y2="530" stroke="rgba(38,166,154,.85)" stroke-width="1"/>
<line x1="1775.61" y1="536.6" x2="1775.61" y2="541.6" stroke="rgba(38,166,154,.85)" stroke-width="1"/>
<rect x="1768.14" y="529.97" width="14.95" height="6.75" fill="rgba(0,0,0,.5)" stroke="rgba(38,166,154,.88)" stroke-width="1.15"/>
</g>
<polyline clip-path="url(#cp)" points="7.5,732 50,722.5 112.5,710 175,697 218.75,691.25 260.75,686.6 302.75,680.5 345,673.2 387,666.75 429,662 475,657 540,644.5 597.5,632.5 660,622 702.5,613.75 723.75,608 765,596.25 827.5,578.75 870,567.5 920,551.75 937.5,544.5 997.5,512.5 1060,478.75 1082.5,468.75 1122.5,446.25 1165,429.25 1205.5,420 1250,407.5 1290,395 1312.5,390 1335,387 1380,373.75 1397.5,370 1420,368 1460,366.5 1502.5,367.5 1545,372 1565,373 1590,377 1627.5,384.5 1650,387.5 1670,392.5 1710,399.5 1752.5,405 1776.25,410" fill="none" stroke="#e91e63" stroke-width="1.7" stroke-linejoin="round"/>
<line x1="8" y1="529.9" x2="1828.5" y2="529.9" stroke="#9a9da6" stroke-width="1" stroke-dasharray="1.1 1.23"/>
<g clip-path="url(#cv)">
<rect x="6.92" y="899.5" width="3" height="22.8" fill="rgba(120,123,134,.55)"/>
<rect x="27.96" y="898" width="3" height="24.3" fill="rgba(120,123,134,.55)"/>
<rect x="49.00" y="855.5" width="3" height="66.8" fill="rgba(76,175,80,.5)"/>
<rect x="70.03" y="874.5" width="3" height="47.8" fill="rgba(244,67,54,.5)"/>
<rect x="91.07" y="890" width="3" height="32.3" fill="rgba(76,175,80,.5)"/>
<rect x="112.11" y="883.25" width="3" height="39.05" fill="rgba(76,175,80,.5)"/>
<rect x="133.15" y="890.25" width="3" height="32.05" fill="rgba(76,175,80,.5)"/>
<rect x="154.19" y="861" width="3" height="61.3" fill="rgba(76,175,80,.5)"/>
<rect x="175.22" y="888.75" width="3" height="33.55" fill="rgba(76,175,80,.5)"/>
<rect x="196.26" y="847" width="3" height="75.3" fill="rgba(244,67,54,.5)"/>
<rect x="217.30" y="858.75" width="3" height="63.55" fill="rgba(244,67,54,.5)"/>
<rect x="238.34" y="862" width="3" height="60.3" fill="rgba(76,175,80,.5)"/>
<rect x="259.38" y="882.25" width="3" height="40.05" fill="rgba(244,67,54,.5)"/>
<rect x="280.41" y="879.25" width="3" height="43.05" fill="rgba(244,67,54,.5)"/>
<rect x="301.45" y="889.25" width="3" height="33.05" fill="rgba(120,123,134,.55)"/>
<rect x="322.49" y="888" width="3" height="34.3" fill="rgba(76,175,80,.5)"/>
<rect x="343.53" y="835.75" width="3" height="86.55" fill="rgba(76,175,80,.5)"/>
<rect x="364.57" y="878.25" width="3" height="44.05" fill="rgba(76,175,80,.5)"/>
<rect x="385.60" y="894" width="3" height="28.3" fill="rgba(76,175,80,.5)"/>
<rect x="406.64" y="882.25" width="3" height="40.05" fill="rgba(76,175,80,.5)"/>
<rect x="427.68" y="880" width="3" height="42.3" fill="rgba(120,123,134,.55)"/>
<rect x="448.72" y="870" width="3" height="52.3" fill="rgba(76,175,80,.5)"/>
<rect x="469.76" y="844.25" width="3" height="78.05" fill="rgba(76,175,80,.5)"/>
<rect x="490.79" y="854" width="3" height="68.3" fill="rgba(76,175,80,.5)"/>
<rect x="511.83" y="862.25" width="3" height="60.05" fill="rgba(76,175,80,.5)"/>
<rect x="532.87" y="842.25" width="3" height="80.05" fill="rgba(76,175,80,.5)"/>
<rect x="553.91" y="856.25" width="3" height="66.05" fill="rgba(76,175,80,.5)"/>
<rect x="574.95" y="861.75" width="3" height="60.55" fill="rgba(76,175,80,.5)"/>
<rect x="595.98" y="872.25" width="3" height="50.05" fill="rgba(76,175,80,.5)"/>
<rect x="617.02" y="855" width="3" height="67.3" fill="rgba(244,67,54,.5)"/>
<rect x="638.06" y="859.75" width="3" height="62.55" fill="rgba(76,175,80,.5)"/>
<rect x="659.10" y="891.25" width="3" height="31.05" fill="rgba(120,123,134,.55)"/>
<rect x="680.14" y="888" width="3" height="34.3" fill="rgba(76,175,80,.5)"/>
<rect x="701.17" y="896.5" width="3" height="25.8" fill="rgba(76,175,80,.5)"/>
<rect x="722.21" y="857.25" width="3" height="65.05" fill="rgba(76,175,80,.5)"/>
<rect x="743.25" y="869" width="3" height="53.3" fill="rgba(76,175,80,.5)"/>
<rect x="764.29" y="886.25" width="3" height="36.05" fill="rgba(76,175,80,.5)"/>
<rect x="785.33" y="895" width="3" height="27.3" fill="rgba(76,175,80,.5)"/>
<rect x="806.36" y="888.75" width="3" height="33.55" fill="rgba(76,175,80,.5)"/>
<rect x="827.40" y="883.25" width="3" height="39.05" fill="rgba(76,175,80,.5)"/>
<rect x="848.44" y="884.25" width="3" height="38.05" fill="rgba(244,67,54,.5)"/>
<rect x="869.48" y="882" width="3" height="40.3" fill="rgba(244,67,54,.5)"/>
<rect x="890.52" y="892.75" width="3" height="29.55" fill="rgba(120,123,134,.55)"/>
<rect x="911.55" y="894.25" width="3" height="28.05" fill="rgba(76,175,80,.5)"/>
<rect x="932.59" y="877" width="3" height="45.3" fill="rgba(76,175,80,.5)"/>
<rect x="953.63" y="837.75" width="3" height="84.55" fill="rgba(76,175,80,.5)"/>
<rect x="974.67" y="846" width="3" height="76.3" fill="rgba(120,123,134,.55)"/>
<rect x="995.71" y="850" width="3" height="72.3" fill="rgba(76,175,80,.5)"/>
<rect x="1016.74" y="861.75" width="3" height="60.55" fill="rgba(244,67,54,.5)"/>
<rect x="1037.78" y="844.25" width="3" height="78.05" fill="rgba(244,67,54,.5)"/>
<rect x="1058.82" y="840.75" width="3" height="81.55" fill="rgba(120,123,134,.55)"/>
<rect x="1079.86" y="820" width="3" height="102.3" fill="rgba(244,67,54,.5)"/>
<rect x="1100.90" y="870" width="3" height="52.3" fill="rgba(244,67,54,.5)"/>
<rect x="1121.93" y="869.75" width="3" height="52.55" fill="rgba(244,67,54,.5)"/>
<rect x="1142.97" y="853.5" width="3" height="68.8" fill="rgba(244,67,54,.5)"/>
<rect x="1164.01" y="852.25" width="3" height="70.05" fill="rgba(244,67,54,.5)"/>
<rect x="1185.05" y="859.75" width="3" height="62.55" fill="rgba(244,67,54,.5)"/>
<rect x="1206.09" y="817.75" width="3" height="104.55" fill="rgba(244,67,54,.5)"/>
<rect x="1227.12" y="850" width="3" height="72.3" fill="rgba(244,67,54,.5)"/>
<rect x="1248.16" y="848.75" width="3" height="73.55" fill="rgba(244,67,54,.5)"/>
<rect x="1269.20" y="818.25" width="3" height="104.05" fill="rgba(244,67,54,.5)"/>
<rect x="1290.24" y="847.75" width="3" height="74.55" fill="rgba(244,67,54,.5)"/>
<rect x="1311.28" y="859.75" width="3" height="62.55" fill="rgba(244,67,54,.5)"/>
<rect x="1332.31" y="853" width="3" height="69.3" fill="rgba(244,67,54,.5)"/>
<rect x="1353.35" y="839.25" width="3" height="83.05" fill="rgba(76,175,80,.5)"/>
<rect x="1374.39" y="828.75" width="3" height="93.55" fill="rgba(76,175,80,.5)"/>
<rect x="1395.43" y="849.25" width="3" height="73.05" fill="rgba(76,175,80,.5)"/>
<rect x="1416.47" y="843" width="3" height="79.3" fill="rgba(244,67,54,.5)"/>
<rect x="1437.50" y="852" width="3" height="70.3" fill="rgba(244,67,54,.5)"/>
<rect x="1458.54" y="838" width="3" height="84.3" fill="rgba(244,67,54,.5)"/>
<rect x="1479.58" y="835.5" width="3" height="86.8" fill="rgba(244,67,54,.5)"/>
<rect x="1500.62" y="833" width="3" height="89.3" fill="rgba(244,67,54,.5)"/>
<rect x="1521.66" y="818" width="3" height="104.3" fill="rgba(244,67,54,.5)"/>
<rect x="1542.69" y="831.25" width="3" height="91.05" fill="rgba(244,67,54,.5)"/>
<rect x="1563.73" y="809.25" width="3" height="113.05" fill="rgba(76,175,80,.5)"/>
<rect x="1584.77" y="848" width="3" height="74.3" fill="rgba(244,67,54,.5)"/>
<rect x="1605.81" y="861" width="3" height="61.3" fill="rgba(244,67,54,.5)"/>
<rect x="1626.85" y="837.25" width="3" height="85.05" fill="rgba(244,67,54,.5)"/>
<rect x="1647.88" y="866.25" width="3" height="56.05" fill="rgba(120,123,134,.55)"/>
<rect x="1668.92" y="842.75" width="3" height="79.55" fill="rgba(120,123,134,.55)"/>
<rect x="1689.96" y="857.75" width="3" height="64.55" fill="rgba(120,123,134,.55)"/>
<rect x="1711.00" y="854" width="3" height="68.3" fill="rgba(244,67,54,.5)"/>
<rect x="1732.04" y="825" width="3" height="97.3" fill="rgba(76,175,80,.5)"/>
<rect x="1753.07" y="851.25" width="3" height="71.05" fill="rgba(76,175,80,.5)"/>
<rect x="1774.11" y="911.75" width="3" height="10.55" fill="rgba(233,30,99,.5)"/>
</g>
<path d="M197.76 777.00 l6.6 3.9 v9.3 a1.2 1.2 0 0 1 -1.2 1.2 h-10.8 a1.2 1.2 0 0 1 -1.2 -1.2 v-9.3 z" fill="#fff" stroke="#089981" stroke-width="1.4" stroke-linejoin="round"/>
<text x="195.26" y="787.90" font-size="9.7" font-weight="700" textLength="5.2" lengthAdjust="spacingAndGlyphs" style="fill:#089981;stroke:#089981">E</text>
<path d="M471.26 777.00 l6.6 3.9 v9.3 a1.2 1.2 0 0 1 -1.2 1.2 h-10.8 a1.2 1.2 0 0 1 -1.2 -1.2 v-9.3 z" fill="#fff" stroke="#089981" stroke-width="1.4" stroke-linejoin="round"/>
<text x="468.76" y="787.90" font-size="9.7" font-weight="700" textLength="5.2" lengthAdjust="spacingAndGlyphs" style="fill:#089981;stroke:#089981">E</text>
<path d="M723.71 777.00 l6.6 3.9 v9.3 a1.2 1.2 0 0 1 -1.2 1.2 h-10.8 a1.2 1.2 0 0 1 -1.2 -1.2 v-9.3 z" fill="#fff" stroke="#089981" stroke-width="1.4" stroke-linejoin="round"/>
<text x="721.21" y="787.90" font-size="9.7" font-weight="700" textLength="5.2" lengthAdjust="spacingAndGlyphs" style="fill:#089981;stroke:#089981">E</text>
<path d="M997.21 777.00 l6.6 3.9 v9.3 a1.2 1.2 0 0 1 -1.2 1.2 h-10.8 a1.2 1.2 0 0 1 -1.2 -1.2 v-9.3 z" fill="#fff" stroke="#089981" stroke-width="1.4" stroke-linejoin="round"/>
<text x="994.71" y="787.90" font-size="9.7" font-weight="700" textLength="5.2" lengthAdjust="spacingAndGlyphs" style="fill:#089981;stroke:#089981">E</text>
<path d="M1270.70 777.00 l6.6 3.9 v9.3 a1.2 1.2 0 0 1 -1.2 1.2 h-10.8 a1.2 1.2 0 0 1 -1.2 -1.2 v-9.3 z" fill="#fff" stroke="#089981" stroke-width="1.4" stroke-linejoin="round"/>
<text x="1268.20" y="787.90" font-size="9.7" font-weight="700" textLength="5.2" lengthAdjust="spacingAndGlyphs" style="fill:#089981;stroke:#089981">E</text>
<path d="M1565.23 777.00 l6.6 3.9 v9.3 a1.2 1.2 0 0 1 -1.2 1.2 h-10.8 a1.2 1.2 0 0 1 -1.2 -1.2 v-9.3 z" fill="#fff" stroke="#089981" stroke-width="1.4" stroke-linejoin="round"/>
<text x="1562.73" y="787.90" font-size="9.7" font-weight="700" textLength="5.2" lengthAdjust="spacingAndGlyphs" style="fill:#089981;stroke:#089981">E</text>
<circle cx="239.84" cy="784.70" r="7.3" fill="#fff" stroke="#2962ff" stroke-width="1.3"/>
<text x="236.99" y="788.00" font-size="9.7" font-weight="700" textLength="5.9" lengthAdjust="spacingAndGlyphs" style="fill:#2962ff;stroke:#2962ff">D</text>
<circle cx="513.33" cy="784.70" r="7.3" fill="#fff" stroke="#2962ff" stroke-width="1.3"/>
<text x="510.48" y="788.00" font-size="9.7" font-weight="700" textLength="5.9" lengthAdjust="spacingAndGlyphs" style="fill:#2962ff;stroke:#2962ff">D</text>
<circle cx="765.79" cy="784.70" r="7.3" fill="#fff" stroke="#2962ff" stroke-width="1.3"/>
<text x="762.94" y="788.00" font-size="9.7" font-weight="700" textLength="5.9" lengthAdjust="spacingAndGlyphs" style="fill:#2962ff;stroke:#2962ff">D</text>
<circle cx="1039.28" cy="784.70" r="7.3" fill="#fff" stroke="#2962ff" stroke-width="1.3"/>
<text x="1036.43" y="788.00" font-size="9.7" font-weight="700" textLength="5.9" lengthAdjust="spacingAndGlyphs" style="fill:#2962ff;stroke:#2962ff">D</text>
<circle cx="1312.78" cy="784.70" r="7.3" fill="#fff" stroke="#2962ff" stroke-width="1.3"/>
<text x="1309.93" y="788.00" font-size="9.7" font-weight="700" textLength="5.9" lengthAdjust="spacingAndGlyphs" style="fill:#2962ff;stroke:#2962ff">D</text>
<circle cx="1607.31" cy="784.70" r="7.3" fill="#fff" stroke="#2962ff" stroke-width="1.3"/>
<text x="1604.46" y="788.00" font-size="9.7" font-weight="700" textLength="5.9" lengthAdjust="spacingAndGlyphs" style="fill:#2962ff;stroke:#2962ff">D</text>
<circle cx="639.56" cy="784.70" r="7.3" fill="#fff" stroke="#ff9800" stroke-width="1.3"/>
<text x="636.71" y="788.00" font-size="9.7" font-weight="700" textLength="5.9" lengthAdjust="spacingAndGlyphs" style="fill:#ff9800;stroke:#ff9800">S</text>
<g font-size="9.9">
<text x="1837" y="785.00" textLength="25.4" lengthAdjust="spacingAndGlyphs">90.00</text>
<text x="1837" y="758.00" textLength="30.9" lengthAdjust="spacingAndGlyphs">100.00</text>
<text x="1837" y="732.00" textLength="30.9" lengthAdjust="spacingAndGlyphs">110.00</text>
<text x="1837" y="705.00" textLength="30.9" lengthAdjust="spacingAndGlyphs">120.00</text>
<text x="1837" y="678.00" textLength="30.9" lengthAdjust="spacingAndGlyphs">130.00</text>
<text x="1837" y="652.00" textLength="30.9" lengthAdjust="spacingAndGlyphs">140.00</text>
<text x="1837" y="625.00" textLength="30.9" lengthAdjust="spacingAndGlyphs">150.00</text>
<text x="1837" y="598.00" textLength="30.9" lengthAdjust="spacingAndGlyphs">160.00</text>
<text x="1837" y="572.00" textLength="30.9" lengthAdjust="spacingAndGlyphs">170.00</text>
<text x="1837" y="545.00" textLength="30.9" lengthAdjust="spacingAndGlyphs">180.00</text>
<text x="1837" y="518.00" textLength="30.9" lengthAdjust="spacingAndGlyphs">190.00</text>
<text x="1837" y="492.00" textLength="30.9" lengthAdjust="spacingAndGlyphs">200.00</text>
<text x="1837" y="465.00" textLength="30.9" lengthAdjust="spacingAndGlyphs">210.00</text>
<text x="1837" y="439.00" textLength="30.9" lengthAdjust="spacingAndGlyphs">220.00</text>
<text x="1837" y="412.00" textLength="30.9" lengthAdjust="spacingAndGlyphs">230.00</text>
<text x="1837" y="385.00" textLength="30.9" lengthAdjust="spacingAndGlyphs">240.00</text>
<text x="1837" y="359.00" textLength="30.9" lengthAdjust="spacingAndGlyphs">250.00</text>
<text x="1837" y="332.00" textLength="30.9" lengthAdjust="spacingAndGlyphs">260.00</text>
<text x="1837" y="305.00" textLength="30.9" lengthAdjust="spacingAndGlyphs">270.00</text>
<text x="1837" y="279.00" textLength="30.9" lengthAdjust="spacingAndGlyphs">280.00</text>
<text x="1837" y="252.00" textLength="30.9" lengthAdjust="spacingAndGlyphs">290.00</text>
<text x="1837" y="225.00" textLength="30.9" lengthAdjust="spacingAndGlyphs">300.00</text>
<text x="1837" y="199.00" textLength="30.9" lengthAdjust="spacingAndGlyphs">310.00</text>
<text x="1837" y="172.00" textLength="30.9" lengthAdjust="spacingAndGlyphs">320.00</text>
<text x="1837" y="146.00" textLength="30.9" lengthAdjust="spacingAndGlyphs">330.00</text>
<text x="1837" y="119.00" textLength="30.9" lengthAdjust="spacingAndGlyphs">340.00</text>
<text x="1837" y="92.00" textLength="30.9" lengthAdjust="spacingAndGlyphs">350.00</text>
<text x="1837" y="66.00" textLength="30.9" lengthAdjust="spacingAndGlyphs">360.00</text>
<text x="1836.8" y="34" font-size="9.3" textLength="18.8" lengthAdjust="spacingAndGlyphs">USD</text>
<text x="1837" y="926.00" textLength="19.8" lengthAdjust="spacingAndGlyphs">0.00</text>
<text x="1837" y="895.00" textLength="67" lengthAdjust="spacingAndGlyphs">100000000.00</text>
<text x="1837" y="865.00" textLength="67" lengthAdjust="spacingAndGlyphs">200000000.00</text>
<text x="1837" y="835.00" textLength="67" lengthAdjust="spacingAndGlyphs">300000000.00</text>
<text x="1837" y="805.00" textLength="67" lengthAdjust="spacingAndGlyphs">400000000.00</text>
</g>
<rect x="1828.5" y="410.2" width="44.8" height="12.6" rx="1.6" fill="#f23645"/>
<text x="1837" y="419" font-size="9.9" textLength="30.9" lengthAdjust="spacingAndGlyphs" style="fill:#fff;stroke:#fff;stroke-width:.1px">227.00</text>
<rect x="1828.5" y="588.7" width="44.8" height="12.8" rx="1.6" fill="#f23645"/>
<text x="1837" y="598.3" font-size="9.9" textLength="30.9" lengthAdjust="spacingAndGlyphs" style="fill:#fff;stroke:#fff;stroke-width:.1px">160.00</text>
<rect x="1828.5" y="523.4" width="44.8" height="24" rx="1.6" fill="#000"/>
<text x="1837" y="533.2" font-size="9.9" textLength="30.9" lengthAdjust="spacingAndGlyphs" style="fill:#fff;stroke:#fff;stroke-width:.1px">184.38</text>
<text x="1837" y="544.1" font-size="9.9" textLength="25.6" lengthAdjust="spacingAndGlyphs" style="fill:#d1d4dc;stroke:#d1d4dc">4d 2h</text>
<g font-size="9.8" text-anchor="middle">
<text x="50.50" y="949" font-weight="700" font-size="10.4">2021</text>
<text x="134.65" y="949">Feb</text>
<text x="218.80" y="949">Mar</text>
<text x="323.99" y="949">Apr</text>
<text x="408.14" y="949">May</text>
<text x="492.29" y="949">Jun</text>
<text x="597.48" y="949">Jul</text>
<text x="681.64" y="949">Aug</text>
<text x="786.83" y="949">Sep</text>
<text x="870.98" y="949">Oct</text>
<text x="955.13" y="949">Nov</text>
<text x="1060.32" y="949">Dec</text>
<text x="1144.47" y="949" font-weight="700" font-size="10.4">2022</text>
<text x="1249.66" y="949">Feb</text>
<text x="1333.81" y="949">Mar</text>
<text x="1417.97" y="949">Apr</text>
<text x="1502.12" y="949">May</text>
<text x="1607.31" y="949">Jun</text>
<text x="1691.46" y="949">Jul</text>
<text x="1775.61" y="949">Aug</text>
</g>
<text x="7.9" y="15" font-size="9.9" textLength="332" lengthAdjust="spacingAndGlyphs">SpecialeAnalysis published on TradingView.com, Aug 01, 2022 14:29 UTC-4</text>
<rect x="12.5" y="27.5" width="387" height="12.5" fill="#fff"/>
<g font-size="9.6">
<text x="14.1" y="36" textLength="147.3" lengthAdjust="spacingAndGlyphs">NVIDIA Corporation, 1W, NASDAQ</text>
<text x="167.2" y="36" textLength="6.8" lengthAdjust="spacingAndGlyphs" style="fill:#131722;stroke:#131722">O</text>
<text x="174.7" y="36" textLength="27.7" lengthAdjust="spacingAndGlyphs" style="fill:#26a69a;stroke:#26a69a">181.82</text>
<text x="208.3" y="36" textLength="6.3" lengthAdjust="spacingAndGlyphs" style="fill:#131722;stroke:#131722">H</text>
<text x="215.3" y="36" textLength="29.7" lengthAdjust="spacingAndGlyphs" style="fill:#26a69a;stroke:#26a69a">188.46</text>
<text x="250.9" y="36" textLength="4.3" lengthAdjust="spacingAndGlyphs" style="fill:#131722;stroke:#131722">L</text>
<text x="255.9" y="36" textLength="28.9" lengthAdjust="spacingAndGlyphs" style="fill:#26a69a;stroke:#26a69a">179.90</text>
<text x="290.5" y="36" textLength="6.4" lengthAdjust="spacingAndGlyphs" style="fill:#131722;stroke:#131722">C</text>
<text x="297.6" y="36" textLength="29.1" lengthAdjust="spacingAndGlyphs" style="fill:#26a69a;stroke:#26a69a">184.38</text>
<text x="332.4" y="36" textLength="65.2" lengthAdjust="spacingAndGlyphs" style="fill:#26a69a;stroke:#26a69a">+2.75 (+1.51%)</text>
</g>
<g transform="translate(7.8 963.6) scale(0.43)" fill="#131722"><path d="M14 22H7V11H0V4h14v18z"/><circle cx="20" cy="8" r="4"/><path d="M28 22h-8l7.5-18h8L28 22z"/></g>
<text x="26.3" y="973" font-size="9.8" textLength="57" lengthAdjust="spacingAndGlyphs" style="stroke-width:.4px">TradingView</text>
</svg></body></html>
